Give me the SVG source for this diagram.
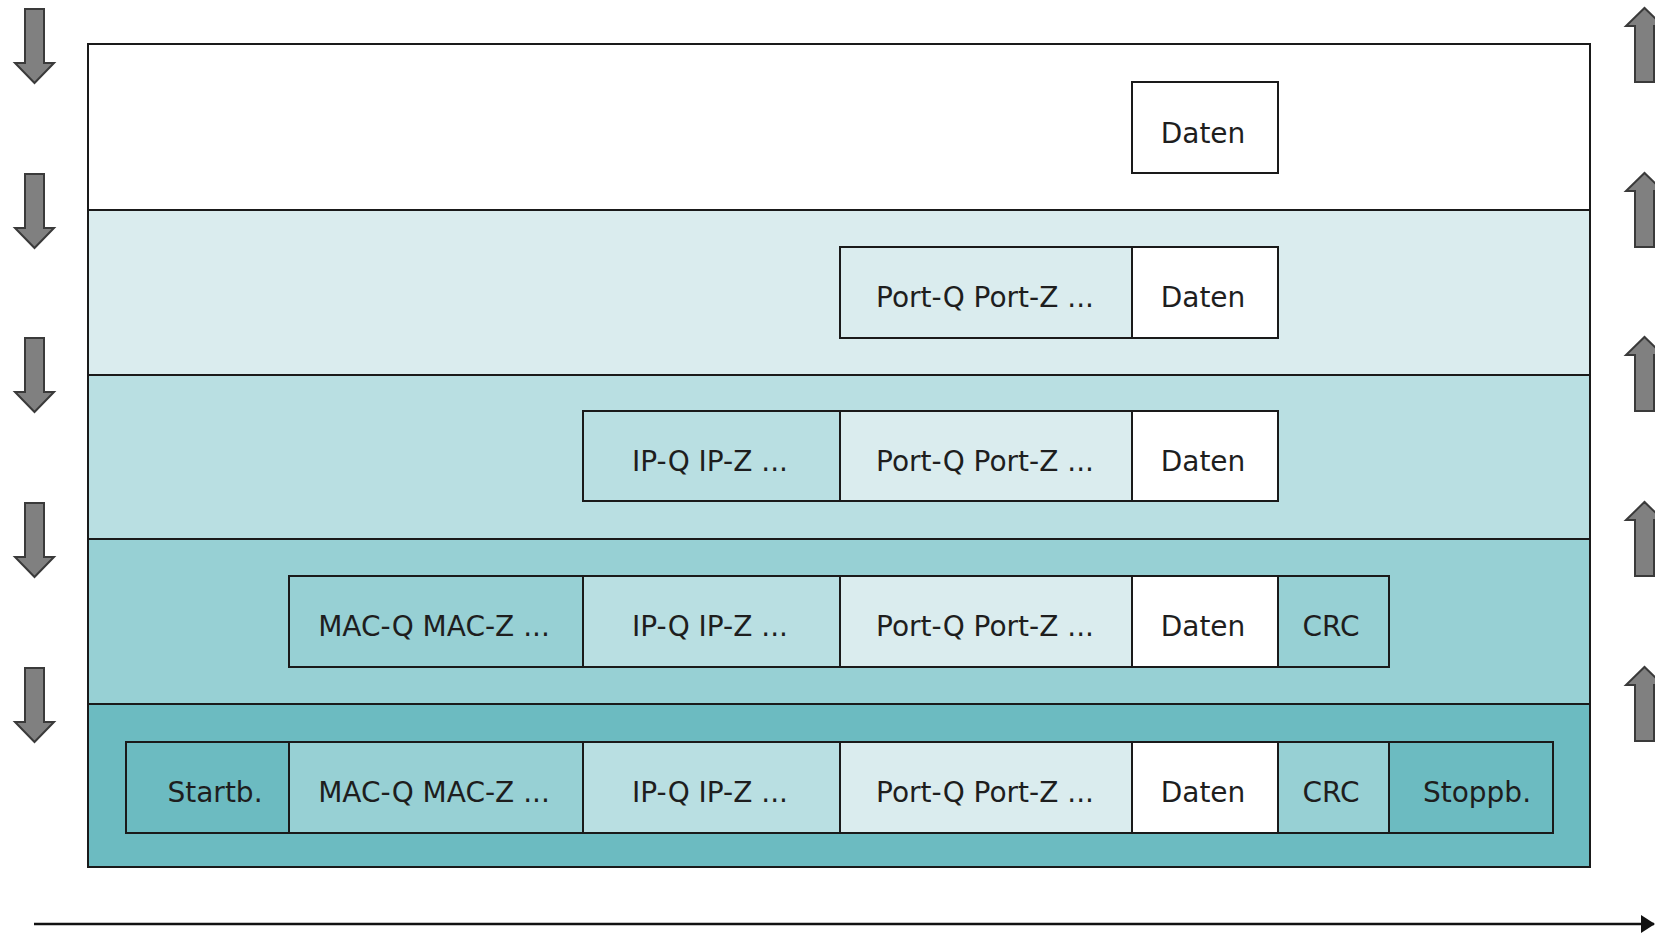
<svg xmlns="http://www.w3.org/2000/svg" width="1655" height="934" viewBox="0 0 1655 934">
  <style>
    .layer { stroke: #1a1a1a; stroke-width: 2; }
    .cell { stroke: #1a1a1a; stroke-width: 2; }
    .c0 { fill: #ffffff; }
    .c1 { fill: #daecee; }
    .c2 { fill: #b9dfe2; }
    .c3 { fill: #97d0d4; }
    .c4 { fill: #6cbbc1; }
    .lbl { font-family: "DejaVu Sans", Verdana, sans-serif; font-size: 28px; fill: #1e1e1e; text-anchor: middle; }
    .arrow { fill: #808080; stroke: #3a3a3a; stroke-width: 2; stroke-linejoin: miter; }
    .axis { stroke: #111; stroke-width: 2.5; fill: none; }
  </style>
  <defs>
    <marker id="axisHead" markerWidth="14" markerHeight="18" refX="13" refY="9" orient="auto" markerUnits="userSpaceOnUse">
      <path d="M0,0 L14,9 L0,18 Z" fill="#111"/>
    </marker>
    <!-- block arrow pointing down, origin at shaft top-left -->
    <path id="downArrow" d="M0,0 H19 V54 H29 L9.5,74 L-10,54 H0 Z"/>
    <!-- block arrow pointing up, origin at shaft bottom-left -->
    <path id="upArrow" d="M0,0 H19 V-56 H28 L9.5,-74 L-9,-56 H0 Z"/>
  </defs>

  <rect width="1655" height="934" fill="#ffffff"/>

  <!-- layer bands -->
  <g id="layers">
    <rect id="layer-app" class="layer c0" x="88" y="44" width="1502" height="166"/>
    <rect id="layer-transport" class="layer c1" x="88" y="210" width="1502" height="165"/>
    <rect id="layer-network" class="layer c2" x="88" y="375" width="1502" height="164"/>
    <rect id="layer-link" class="layer c3" x="88" y="539" width="1502" height="165"/>
    <rect id="layer-phys" class="layer c4" x="88" y="704" width="1502" height="163"/>
  </g>

  <!-- row 1 -->
  <g id="r1-daten">
    <rect class="cell c0" x="1132" y="82" width="146" height="91"/>
    <text class="lbl" x="1203" y="143">Daten</text>
  </g>

  <!-- row 2 -->
  <g id="r2-port">
    <rect class="cell c1" x="840" y="247" width="292" height="91"/>
    <text class="lbl" x="985" y="307">Port-Q Port-Z ...</text>
  </g>
  <g id="r2-daten">
    <rect class="cell c0" x="1132" y="247" width="146" height="91"/>
    <text class="lbl" x="1203" y="307">Daten</text>
  </g>

  <!-- row 3 -->
  <g id="r3-ip">
    <rect class="cell c2" x="583" y="411" width="257" height="90"/>
    <text class="lbl" x="710" y="471">IP-Q IP-Z ...</text>
  </g>
  <g id="r3-port">
    <rect class="cell c1" x="840" y="411" width="292" height="90"/>
    <text class="lbl" x="985" y="471">Port-Q Port-Z ...</text>
  </g>
  <g id="r3-daten">
    <rect class="cell c0" x="1132" y="411" width="146" height="90"/>
    <text class="lbl" x="1203" y="471">Daten</text>
  </g>

  <!-- row 4 -->
  <g id="r4-mac">
    <rect class="cell c3" x="289" y="576" width="294" height="91"/>
    <text class="lbl" x="434" y="636">MAC-Q MAC-Z ...</text>
  </g>
  <g id="r4-ip">
    <rect class="cell c2" x="583" y="576" width="257" height="91"/>
    <text class="lbl" x="710" y="636">IP-Q IP-Z ...</text>
  </g>
  <g id="r4-port">
    <rect class="cell c1" x="840" y="576" width="292" height="91"/>
    <text class="lbl" x="985" y="636">Port-Q Port-Z ...</text>
  </g>
  <g id="r4-daten">
    <rect class="cell c0" x="1132" y="576" width="146" height="91"/>
    <text class="lbl" x="1203" y="636">Daten</text>
  </g>
  <g id="r4-crc">
    <rect class="cell c3" x="1278" y="576" width="111" height="91"/>
    <text class="lbl" x="1331" y="636">CRC</text>
  </g>

  <!-- row 5 -->
  <g id="r5-start">
    <rect class="cell c4" x="126" y="742" width="163" height="91"/>
    <text class="lbl" x="215" y="802">Startb.</text>
  </g>
  <g id="r5-mac">
    <rect class="cell c3" x="289" y="742" width="294" height="91"/>
    <text class="lbl" x="434" y="802">MAC-Q MAC-Z ...</text>
  </g>
  <g id="r5-ip">
    <rect class="cell c2" x="583" y="742" width="257" height="91"/>
    <text class="lbl" x="710" y="802">IP-Q IP-Z ...</text>
  </g>
  <g id="r5-port">
    <rect class="cell c1" x="840" y="742" width="292" height="91"/>
    <text class="lbl" x="985" y="802">Port-Q Port-Z ...</text>
  </g>
  <g id="r5-daten">
    <rect class="cell c0" x="1132" y="742" width="146" height="91"/>
    <text class="lbl" x="1203" y="802">Daten</text>
  </g>
  <g id="r5-crc">
    <rect class="cell c3" x="1278" y="742" width="111" height="91"/>
    <text class="lbl" x="1331" y="802">CRC</text>
  </g>
  <g id="r5-stop">
    <rect class="cell c4" x="1389" y="742" width="164" height="91"/>
    <text class="lbl" x="1477" y="802">Stoppb.</text>
  </g>

  <!-- direction arrows and time axis -->
  <g id="connectors">
    <use href="#downArrow" class="arrow" x="25" y="9"/>
    <use href="#downArrow" class="arrow" x="25" y="174"/>
    <use href="#downArrow" class="arrow" x="25" y="338"/>
    <use href="#downArrow" class="arrow" x="25" y="503"/>
    <use href="#downArrow" class="arrow" x="25" y="668"/>

    <use href="#upArrow" class="arrow" x="1635" y="82"/>
    <use href="#upArrow" class="arrow" x="1635" y="247"/>
    <use href="#upArrow" class="arrow" x="1635" y="411"/>
    <use href="#upArrow" class="arrow" x="1635" y="576"/>
    <use href="#upArrow" class="arrow" x="1635" y="741"/>

    <line class="axis" x1="34" y1="924" x2="1654" y2="924" marker-end="url(#axisHead)"/>
  </g>
</svg>
